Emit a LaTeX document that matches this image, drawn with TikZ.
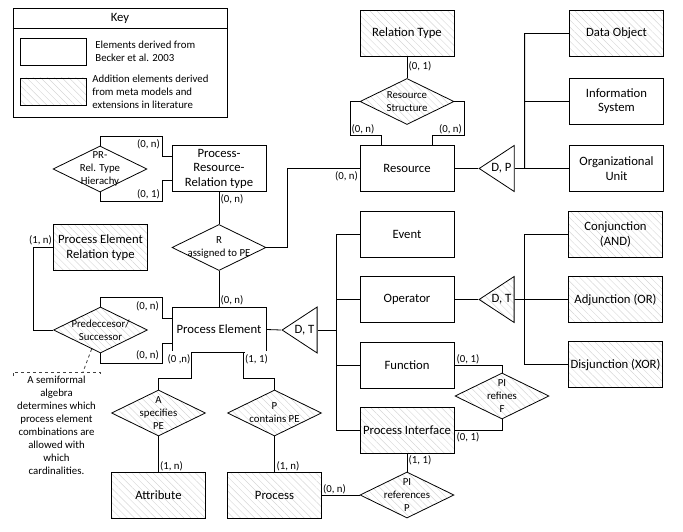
\documentclass[tikz,border=0pt]{standalone}
\usepackage{fontspec}
\setmainfont{Carlito}
\usetikzlibrary{positioning,shapes,patterns.meta,calc}

\begin{document}
\begin{tikzpicture}[x=1pt,y=-1pt,line width=0.8pt]
    \tikzstyle{entity} = [rectangle, draw, minimum width=94pt, minimum height=46pt, align=center, inner sep=1pt, font=\fontsize{12.7}{14.5}\selectfont]
    \tikzstyle{hatched} = [pattern={Lines[angle=-45,distance=5pt,line width=0.45pt]}, pattern color=black!16]
    \tikzstyle{relation} = [diamond, draw, minimum width=94pt, minimum height=46pt, inner sep=0pt]
    \tikzstyle{reltext} = [align=center, inner sep=0pt, font=\fontsize{10.8}{13}\selectfont]
    \tikzstyle{isa} = [isosceles triangle, isosceles triangle stretches, shape border rotate=180, draw, minimum width=46pt, minimum height=35pt, inner sep=0pt, font=\fontsize{12.7}{14}\selectfont]
    \tikzstyle{card} = [fill=white, inner sep=0.5pt, font=\fontsize{10.8}{13}\selectfont]
    \tikzstyle{small} = [inner sep=0pt, font=\fontsize{10.8}{13}\selectfont]
    \useasboundingbox (0,0) rectangle (683,532);

    % Key
    \node[draw, minimum width=214pt, minimum height=109pt, inner sep=0pt] (key) at (120,62.5) {};
    \node[font=\fontsize{12.7}{14}\selectfont] (keytitle) at (120,18.5) {Key};
    \draw (key.west |- 0,28) -- (key.east |- 0,28);
    \node[draw, minimum width=66pt, minimum height=27pt] (keyplain) at (53,51.5) {};
    \node[draw, hatched, minimum width=66pt, minimum height=27pt] (keyhatch) at (53,91.5) {};
    \node[small, align=left, anchor=west] (keyplaintext) at (95,51.5) {Elements derived from\\Becker et al. 2003};
    \node[small, align=left, anchor=west] (keyhatchtext) at (92,91.5) {Addition elements derived\\from meta models and\\extensions in literature};

    % Process side
    \node[entity] (prrt) at (219,168.5) {Process-\\Resource-\\Relation type};
    \node[relation, label={[reltext]center:{PR-\\Rel. Type\\Hierachy}}] (prhier) at (100,169) {};
    \node[relation, label={[reltext]center:{R\\assigned to PE}}] (rpe) at (219,247.5) {};
    \node[entity, hatched] (per) at (100.5,247.5) {Process Element\\Relation type};
    \node[relation, hatched, label={[reltext]center:{Predeccesor/\\Successor}}] (predsucc) at (100.5,330) {};
    \node[entity, minimum height=45pt] (pe) at (219,329.5) {Process Element};
    \node[relation, hatched, label={[reltext]center:{A\\specifies\\PE}}] (aspec) at (158.5,413) {};
    \node[relation, hatched, label={[reltext]center:{P\\contains PE}}] (pcont) at (274.5,413) {};
    \node[entity, hatched] (attr) at (158.5,495) {Attribute};
    \node[entity, hatched] (proc) at (274.5,495) {Process};

    % Resource side
    \node[entity, hatched] (reltype) at (407,33.5) {Relation Type};
    \node[relation, hatched, label={[reltext]center:{Resource\\Structure}}] (resstruct) at (407,101.5) {};
    \node[entity] (res) at (407,168.5) {Resource};
    \node[isa] (dp) at (501.5,168.5) {D, P};
    \node[entity, hatched] (dataobj) at (616.5,33.5) {Data Object};
    \node[entity] (infosys) at (616.5,101) {Information\\System};
    \node[entity] (orgunit) at (616.5,168.5) {Organizational\\Unit};

    % Process element types
    \node[isa] (dtpe) at (304.5,330) {D, T};
    \node[entity] (event) at (407,234.5) {Event};
    \node[entity] (operator) at (407,299.5) {Operator};
    \node[entity] (function) at (407,365) {Function};
    \node[entity, hatched] (pint) at (407,430) {Process Interface};
    \node[isa, hatched] (dtop) at (501.5,299.5) {D, T};
    \node[entity, hatched] (conj) at (615.5,234.5) {Conjunction\\(AND)};
    \node[entity, hatched] (adj) at (615.5,299.5) {Adjunction (OR)};
    \node[entity, hatched] (disj) at (615.5,364.5) {Disjunction (XOR)};
    \node[relation, hatched, label={[reltext]center:{PI\\refines\\F}}] (pirefines) at (502,396) {};
    \node[relation, hatched, label={[reltext]center:{PI\\references\\P}}] (piref) at (407,495) {};

    % connectors
    \draw (prhier.north) |- (162,136) |- (prrt.west |- 0,156);
    \draw (prhier.south) |- (162,201) |- (prrt.west |- 0,180);
    \draw (prrt.south) -- (rpe.north);
    \draw (rpe.east) -| (287,168.5) -- (res.west);
    \draw (rpe.south) -- (pe.north);
    \draw (per.west) -- ++(-20,0) |- (predsucc.west);
    \draw (predsucc.north) |- (162,297) |- (pe.west |- 0,318);
    \draw (predsucc.south) |- (162,363) |- (pe.west |- 0,343);
    \draw ($(pe.south west)+(20,0)$) -- ++(0,26) -| (aspec.north);
    \draw ($(pe.south east)+(-23,0)$) -- ++(0,26) -| (pcont.north);
    \draw (aspec.south) -- (attr.north);
    \draw (pcont.south) -- (proc.north);
    \draw (proc.east) -- (piref.west);
    \draw (pe.east) -- (dtpe.west);
    \draw (dtpe.east) -- ++(19,0) coordinate (dtjoin);
    \draw (event.west) -| (dtjoin) |- (pint.west);
    \draw (operator.west) -- (dtjoin |- operator.west);
    \draw (function.west) -- (dtjoin |- function.west);
    \draw (reltype.south) -- (resstruct.north);
    \draw (resstruct.west) -- ++(-9,0) |- ($(res.north)+(-26,-10)$) -- ++(0,10);
    \draw (resstruct.east) -- ++(10,0) |- ($(res.north)+(25,-10)$) -- ++(0,10);
    \draw (res.east) -- (dp.west);
    \draw (dp.east) -- ++(10,0) coordinate (dpjoin);
    \draw (dataobj.west) -| (dpjoin) -- (orgunit.west);
    \draw (infosys.west) -- (dpjoin |- infosys.west);
    \draw (operator.east) -- (dtop.west);
    \draw (dtop.east) -- (adj.west);
    \coordinate (opjoin) at ($(dtop.east)+(10,0)$);
    \draw (conj.west) -| (opjoin) |- (disj.west);
    \draw (function.east) -| (pirefines.north);
    \draw (pirefines.south) |- (pint.east);
    \draw (pint.south) -- (piref.north);

    % cardinalities
    \node[card] (c1) at (148.5,144) {(0, n)};
    \node[card] (c2) at (148.5,194) {(0, 1)};
    \node[card] (c3) at (232,199.5) {(0, n)};
    \node[card] (c4) at (346.5,176) {(0, n)};
    \node[card] (c5) at (420,66) {(0, 1)};
    \node[card] (c6) at (363,129) {(0, n)};
    \node[card] (c7) at (450.5,129) {(0, n)};
    \node[card] (c8) at (232,300) {(0, n)};
    \node[card] (c9) at (147.5,306.5) {(0, n)};
    \node[card] (c10) at (147.5,355.5) {(0, n)};
    \node[card] (c11) at (40.5,240) {(1, n)};
    \node[card, inner ysep=3pt, anchor=north] (c12) at (179,351) {(0 ,n)};
    \node[card, inner ysep=3pt, anchor=north] (c13) at (256.5,351) {(1, 1)};
    \node[card] (c14) at (171.5,466.5) {(1, n)};
    \node[card] (c15) at (288,466.5) {(1, n)};
    \node[card] (c16) at (334.5,489.5) {(0, n)};
    \node[card] (c17) at (420,460.5) {(1, 1)};
    \node[card] (c18) at (468,359) {(0, 1)};
    \node[card] (c19) at (468,437.5) {(0, 1)};

    % annotation
    \coordinate (notehook) at (83,372);
    \draw[dashed, black!75] (predsucc.-115) -- (notehook);
    \draw[dashed, black!75] (13,376) -- (13,372) -- (100,372) -- (100,376);
    \node[small, align=center, anchor=north] (note) at (56.5,375.5) {A semiformal\\algebra\\determines which\\process element\\combinations are\\allowed with\\which\\cardinalities.};
\end{tikzpicture}
\end{document}
